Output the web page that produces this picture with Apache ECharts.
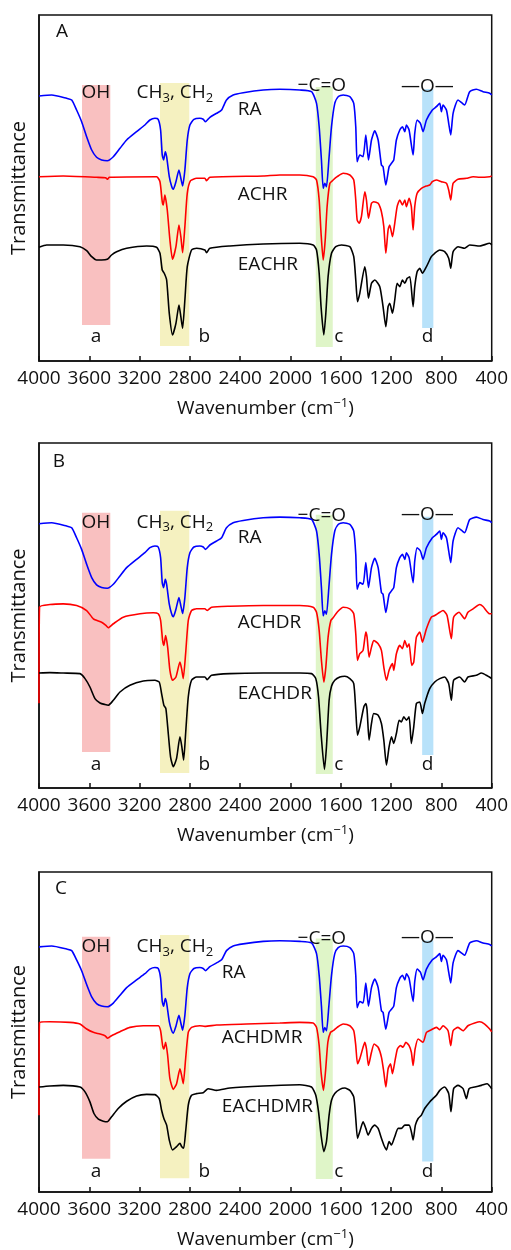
<!DOCTYPE html>
<html><head><meta charset="utf-8">
<script src="https://cdn.jsdelivr.net/npm/echarts@6/dist/echarts.min.js"></script>
<style>html,body{margin:0;padding:0;background:#fff}#c{width:511px;height:1250px}</style>
</head><body><div id="c"></div>
<script>
// x-axis tick labels (wavenumber, cm-1)
const xTicks = [4000, 3600, 3200, 2800, 2400, 2000, 1600, 1200, 800, 400];

// RA (same sample in all three panels)
const wnRA = [4000,3899,3780,3740,3701,3661,3621,3581,3542,3502,3457,3409,3356,3303,3224,3158,3118,3078,3052,3033,3020,3009,2996,2985,2964,2946,2932,2911,2887,2872,2858,2840,2821,2800,2768,2721,2694,2676,2641,2588,2548,2509,2456,2376,2217,2085,1926,1833,1793,1772,1754,1740,1727,1714,1695,1674,1648,1621,1581,1528,1497,1481,1470,1449,1423,1401,1380,1356,1330,1303,1277,1264,1242,1216,1197,1179,1158,1131,1110,1091,1078,1057,1025,1012,993,967,946,919,872,840,813,800,787,760,742,726,707,668,633,615,575,522,469,416,400];
const tRA = [265,266,262.7,261,251,239.3,224.3,211,203.7,201,200.3,204.3,212.7,221,229.3,236,241,242.7,241.7,231,206,201,209.3,204.3,184.3,175,171.7,179.3,191,182.7,175,191,221,236,241.7,242.7,241.7,239.3,243.7,247.7,251,261,266,268.3,271,271.7,271,269.3,257.7,234.3,201,172.7,177.7,174.3,201,234.3,257.7,264.3,266,264.3,257.7,234.3,199.3,206,204.3,226,201,221,230.3,221,196,194.3,176,194.3,197.7,201,221,231,234.3,229.3,236,231,206,227.7,241,237.7,229.3,241,251,254.3,257.7,249.3,256,251,237.7,226,247.7,261,257.7,256,269.3,271.7,269.3,267.7,266];

// Panel A
const wnACHR = [4000,3807,3542,3470,3457,3440,3065,3038,3020,3012,2999,2980,2959,2938,2911,2887,2872,2858,2840,2821,2795,2747,2681,2668,2641,2217,2085,1926,1820,1793,1772,1757,1740,1724,1709,1687,1661,1629,1581,1528,1497,1481,1470,1454,1436,1409,1396,1380,1356,1338,1303,1277,1258,1242,1224,1211,1189,1171,1152,1131,1110,1091,1078,1057,1039,1025,1012,993,959,919,893,872,840,800,760,742,726,707,668,601,548,495,416,400];
const tACHR = [184.3,185,183.7,183.2,181.7,183.7,184.3,179.3,159.3,156,166,151,121,101.7,114.3,136,124.3,108.3,134.3,167.7,180.3,182.7,182.7,180.3,183.7,185,186,186,184.3,181,161,127.7,101,121,154.3,177.7,181,184.3,187.7,186,181,161,141,137.7,144.3,169.3,161,142.7,157.7,159.3,157.7,149.3,134.3,107.7,131,136,124.3,137.7,154.3,161,156,161,154.3,162.7,154.3,131,154.3,167.7,172.7,175,176,179.3,181,179.3,177.7,171,161,177.7,181.7,182.7,184.3,183.7,184.3,185];
const wnEACHR = [4000,3939,3807,3674,3621,3581,3542,3502,3457,3423,3383,3303,3144,3065,3038,3020,3004,2985,2964,2938,2911,2887,2872,2858,2840,2821,2787,2747,2681,2668,2641,2482,2217,1926,1820,1793,1772,1757,1735,1719,1701,1674,1640,1595,1528,1497,1481,1467,1449,1409,1396,1380,1356,1330,1290,1264,1242,1224,1211,1189,1171,1152,1131,1110,1091,1072,1051,1025,1012,993,972,951,919,880,853,813,774,742,726,707,668,615,575,495,416,400];
const tEACHR = [113.7,116,116,114.3,110.3,104.3,101,101,101.7,106,109.3,112.7,115,113.7,107.7,91,87.7,81,47.7,26,37.7,56,44.3,32.7,61,94.3,111,112.7,111,108.3,112.7,115,117,117.7,116,111,87.7,54.3,26,47.7,84.3,107.7,114.3,116,114.3,104.3,81,59.3,67.7,94.3,84.3,62.7,77.7,81,74.3,54.3,34.3,54.3,57.7,47.7,61,77.7,74.3,81,77.7,82.7,84.3,54.3,74.3,89.3,92.7,87.7,94.3,104.3,107.7,111,109.3,102.7,92.7,109.3,114.3,112.7,116,115,117.7,116];

// Panel B
const wnACHDR = [4000,3996,3913,3807,3701,3621,3568,3502,3468,3449,3409,3330,3197,3091,3052,3033,3017,3007,2993,2977,2959,2938,2911,2879,2866,2853,2834,2813,2787,2747,2681,2662,2628,2482,2217,1926,1820,1793,1772,1754,1735,1719,1701,1679,1661,1629,1581,1528,1497,1481,1467,1449,1423,1401,1391,1375,1356,1338,1303,1277,1258,1237,1216,1189,1179,1158,1131,1110,1091,1072,1057,1036,1020,999,972,951,919,880,853,813,787,755,721,703,660,615,589,548,495,469,416,400];
const tACHDR = [85,181.3,184,184.7,183,178,169.7,166.3,163,160.7,164.7,171.3,174.7,175.7,174.7,168,148,143,153,141.3,118,108,111.3,126.3,119.7,109.7,134.7,168,178,179.7,179.7,178,181.3,182.3,183,183,181.3,176.3,158,128,106.3,121.3,151.3,168,170.7,176.3,181.3,179.7,174.7,154.7,128,134.7,138,156.3,151.3,131.3,141.3,148,144.7,138,121.3,108,118,124.7,118,134.7,143,139.7,148,141.3,144.7,123,126.3,151.3,156.3,146.3,159.7,171.3,173,176.3,178,173,149.7,171.3,176.3,169.7,176.3,179.7,184,182,174.7,174.7];
const wnEACHDR = [4000,3913,3807,3674,3634,3595,3555,3515,3475,3449,3409,3356,3277,3171,3078,3044,3025,3007,2991,2972,2954,2932,2906,2879,2864,2850,2834,2813,2787,2747,2681,2662,2628,2482,2217,1926,1833,1799,1777,1757,1730,1714,1693,1674,1648,1608,1568,1528,1497,1481,1467,1449,1417,1401,1391,1375,1356,1338,1303,1277,1258,1237,1216,1197,1179,1158,1136,1118,1099,1078,1057,1039,1020,999,972,951,933,893,853,813,774,742,721,703,655,615,589,522,482,442,400];
const tEACHDR = [115.3,115.7,115.3,114.7,109.7,101.3,89.7,85.3,83.7,83,88,96.3,103,107.3,108,106.3,94.7,83,79.7,54.7,31.3,21.3,29.7,51.3,41.3,28,54.7,91.3,108,111.3,111.3,108.7,113,114.7,115.3,115.3,114.7,109.7,91.3,54.7,18.7,41.3,88,102,108,111.3,112,109.7,104.7,78,53,61.3,81.3,84.7,78,48,64.7,74.7,73,64.7,48,23,41.3,51.3,44.7,54.7,68,66.3,71.3,68,71.3,44.7,61.3,84.7,86.3,74.7,84.7,99.7,106.3,109.7,111.3,104.7,88,108,111.3,106.3,111.3,113,115.3,113,109.7];

// Panel C
const wnACHDMR = [4000,3996,3913,3754,3674,3621,3568,3515,3475,3454,3423,3356,3277,3171,3052,3033,3017,3007,2993,2977,2959,2932,2906,2879,2866,2853,2834,2813,2787,2721,2681,2588,2350,2085,1926,1820,1793,1772,1757,1738,1722,1703,1682,1661,1629,1581,1528,1497,1481,1467,1449,1423,1409,1396,1380,1356,1335,1303,1277,1258,1242,1224,1205,1189,1171,1150,1126,1105,1083,1057,1039,1025,1009,985,946,919,880,840,813,787,747,726,707,668,628,589,535,495,456,416,400];
const tACHDMR = [83,183.4,184.1,183.4,181.6,176.2,172.6,170.8,169,166.2,169,173.3,178,179.8,179.8,174.4,158.3,154.7,161.9,147.6,122.5,111,117.1,133.2,126.1,117.1,144,172.6,178,179.8,179.1,180.5,181.6,182.7,183.4,182.7,178,158.3,129.7,109.9,129.7,161.9,172.6,174.4,178,181.6,179.8,174.4,158.3,138.6,144,156.5,161.9,154.7,136.8,151.1,160.1,156.5,145.8,129.7,113.5,133.2,138.6,127.9,140.4,154.7,158.3,156.5,161.9,158.3,151.1,136.8,154.7,165.5,161.9,172.6,175.5,178,175.5,179.8,174.4,158.3,174.4,178,174.4,179.8,182.7,184.1,181.6,176.2,173.3];
const wnEACHDMR = [4000,3913,3807,3674,3634,3595,3563,3528,3489,3457,3423,3370,3303,3224,3144,3078,3044,3025,3007,2985,2964,2938,2906,2879,2866,2850,2834,2813,2787,2747,2694,2655,2588,2482,2217,1926,1833,1799,1777,1757,1735,1714,1693,1674,1648,1608,1568,1528,1497,1481,1467,1449,1423,1401,1383,1356,1330,1303,1277,1258,1237,1216,1197,1171,1144,1118,1091,1057,1039,1025,1007,985,959,933,893,867,840,813,774,742,724,703,668,628,601,580,535,482,437,400];
const tEACHDMR = [113.5,114.6,115.3,113.5,108.2,97.4,84.9,78.8,76.6,75.9,81.3,90.3,98.1,103.9,105.6,105.3,101,88.4,79.5,72.3,56.2,45.5,49.1,52.7,49.1,47.3,65.2,93.8,104.6,106.4,107.4,111.7,109.9,112.4,114.6,116,113.5,104.6,86.7,61.6,43.7,54.5,83.1,99.2,106.4,111,112.4,109.9,102.8,79.5,58,65.2,75.9,68.8,61.6,68.8,72.3,68.8,58,50.8,45.5,54.5,50.8,59.8,68.8,68.8,72.3,72.3,65.2,56.2,72.3,79.5,83.1,90.3,97.4,101,104.6,109.9,113.5,106.4,86.7,111.7,115.3,111.7,101,111.7,113.5,115.3,117.1,111.7];

const zip = (xs, ys) => xs.map((x, i) => [x, ys[i]]);
const FONT = 'Open Sans';
const INK = '#111111';
const FS = 19;

const panels = [
  { letter: 'A', top: 15, height: 346, names: ['RA', 'ACHR', 'EACHR'],
    series: [zip(wnRA, tRA), zip(wnACHR, tACHR), zip(wnEACHR, tEACHR)],
    lx: 2419, ly: [251, 166, 96], oh: 268, letterPos: [3817, 329], co: 275, oo: 274, ab: 24 },
  { letter: 'B', top: 443, height: 345, names: ['RA', 'ACHDR', 'EACHDR'],
    series: [zip(wnRA, tRA), zip(wnACHDR, tACHDR), zip(wnEACHDR, tEACHDR)],
    lx: 2419, ly: [251, 166, 95], oh: 266, letterPos: [3841, 327], co: 273, oo: 274, ab: 23 },
  { letter: 'C', top: 872, height: 322, names: ['RA', 'ACHDMR', 'EACHDMR'],
    series: [zip(wnRA, tRA), zip(wnACHDMR, tACHDMR), zip(wnEACHDMR, tEACHDMR)],
    lx: 2546, ly: [237.5, 166.5, 92.4], oh: 265, letterPos: [3825, 328], co: 274, oo: 275, ab: 22.6 }
];
const colors = ['#0000ff', '#ff0000', '#000000'];
const bands = [
  { x: [3658, 3433], y: [276, 36], color: '#f9c0c0' },
  { x: [3038, 2805], y: [278, 15], color: '#f5f1c0' },
  { x: [1799, 1664], y: [274, 14], color: '#dff5c8' },
  { x: [953, 864], y: [272, 33], color: '#b8e2fa' }
];

const txt = { fontFamily: FONT, fontSize: FS, color: INK, textBorderWidth: 0, textShadowBlur: 0, opacity: 1 };
const grids = [], xAxes = [], yAxes = [], series = [];
panels.forEach((p, i) => {
  grids.push({ left: 39, right: 18.5, top: p.top, height: p.height, show: true,
    borderColor: INK, borderWidth: 1.5, backgroundColor: 'transparent' });
  xAxes.push({ type: 'value', gridIndex: i, inverse: true,
    min: Math.min(...xTicks), max: Math.max(...xTicks), interval: 400,
    axisLine: { show: true, lineStyle: { color: INK, width: 1.5 } },
    axisTick: { show: true, inside: true, length: 5, lineStyle: { color: INK, width: 1.5 } },
    axisLabel: { color: INK, fontFamily: FONT, fontSize: FS, margin: 8, showMinLabel: true, showMaxLabel: true,
      formatter: v => (xTicks.indexOf(v) >= 0 ? String(v) : '') },
    splitLine: { show: false },
    name: '{t|Wavenumber (cm}{p|−1}{t|)}', nameLocation: 'middle', nameGap: 36,
    nameTextStyle: { rich: {
      t: { fontFamily: FONT, fontSize: FS, color: INK },
      p: { fontFamily: FONT, fontSize: 13, color: INK, padding: [0, 0, 10, 0] } } } });
  yAxes.push({ type: 'value', gridIndex: i, min: 0, max: 346,
    axisLine: { show: true, lineStyle: { color: INK, width: 1.5 } },
    axisTick: { show: false }, axisLabel: { show: false }, splitLine: { show: false },
    name: 'Transmittance', nameLocation: 'middle', nameGap: 10,
    nameTextStyle: { fontFamily: FONT, fontSize: 20, color: INK } });

  const lab = (v, t, align) => ({ value: v, label: Object.assign({ formatter: t, align: align || 'center' }, txt) });
  const labels = [
    lab(p.letterPos, p.letter),
    lab([3547, p.oh], 'OH'),
    lab([2919, p.oh], '{t|CH}{s|3}{t|, CH}{s|2}'),
    lab([p.lx, p.ly[0]], p.names[0], 'left'),
    lab([p.lx, p.ly[1]], p.names[1], 'left'),
    lab([p.lx, p.ly[2]], p.names[2], 'left'),
    lab([1751, p.co], '−C=O'),
    lab([911, p.oo], '—O—'),
    lab([3547, p.ab], 'a'),
    lab([2686, p.ab], 'b'),
    lab([1616, p.ab], 'c'),
    lab([911, p.ab], 'd')
  ];
  series.push({ type: 'scatter', xAxisIndex: i, yAxisIndex: i, symbolSize: 0, z: 3, silent: true,
    itemStyle: { color: '#000', opacity: 1 },
    data: labels,
    label: Object.assign({ show: true, position: 'inside', verticalAlign: 'middle',
      rich: { t: { fontFamily: FONT, fontSize: FS, color: INK },
              s: { fontFamily: FONT, fontSize: 13, color: INK, padding: [10, 0, 0, 0] } } }, txt),
    markArea: { silent: true, z: 0, data: bands.map(b => [
      { xAxis: b.x[0], yAxis: b.y[0], itemStyle: { color: b.color, opacity: 1 } },
      { xAxis: b.x[1], yAxis: b.y[1] }]) } });

  p.series.forEach((d, k) => {
    series.push({ type: 'line', name: p.names[k] + i, xAxisIndex: i, yAxisIndex: i, data: d,
      symbol: 'none', showSymbol: false, z: 4, silent: true, smooth: 0.2,
      lineStyle: { color: colors[k], width: 1.6 }, itemStyle: { color: colors[k] } });
  });
});

const chart = echarts.init(document.getElementById('c'), null, { renderer: 'canvas' });
chart.setOption({ animation: false, backgroundColor: '#fff', grid: grids, xAxis: xAxes, yAxis: yAxes, series });
</script></body></html>
